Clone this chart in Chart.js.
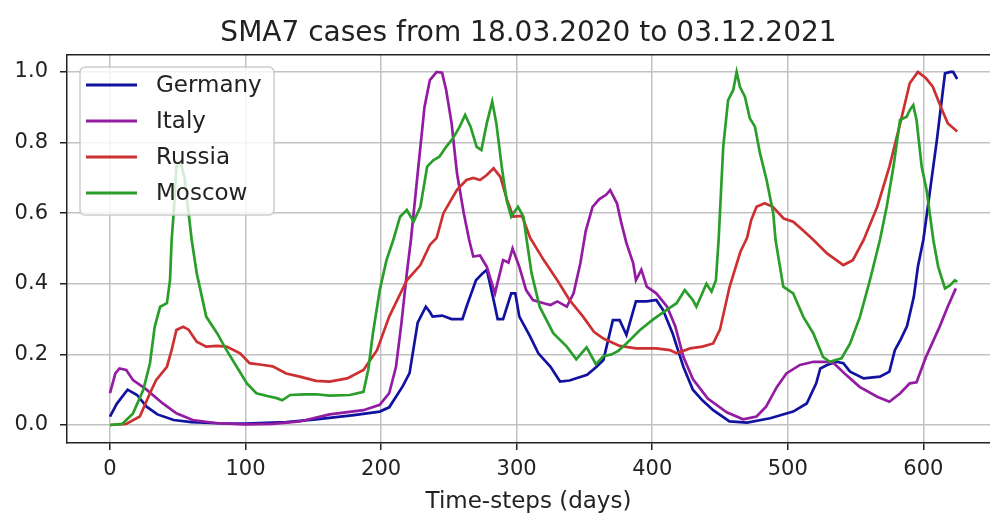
<!DOCTYPE html>
<html><head><meta charset="utf-8">
<script src="https://cdn.jsdelivr.net/npm/chart.js@4"></script>
<style>html,body{margin:0;padding:0;background:#fff;overflow:hidden}#wrap{width:990px;height:516px}</style>
</head><body><div id="wrap"><canvas id="c" width="990" height="516"></canvas></div>
<script>
const titleText = 'SMA7 cases from 18.03.2020 to 03.12.2021';
const xAxisLabel = 'Time-steps (days)';
const seriesNames = ['Germany', 'Italy', 'Russia', 'Moscow'];
const xTicks = [0, 100, 200, 300, 400, 500, 600];
const yTicks = [0, 0.2, 0.4, 0.6, 0.8, 1.0];

// [day, value] pairs
const germany = [[0,0.024],[5,0.06],[13,0.10],[20,0.085],[27,0.052],[35,0.03],[47,0.014],[60,0.008],[80,0.005],[100,0.004],[130,0.008],[150,0.015],[162,0.02],[180,0.028],[199,0.038],[206,0.05],[211,0.08],[216,0.11],[221,0.147],[227,0.29],[233,0.335],[236,0.32],[238,0.307],[245,0.31],[252,0.30],[260,0.30],[263,0.335],[270,0.41],[275,0.43],[278,0.44],[283,0.354],[286,0.30],[290,0.30],[296,0.373],[299,0.373],[302,0.307],[310,0.25],[316,0.203],[325,0.165],[332,0.123],[339,0.126],[352,0.142],[359,0.165],[364,0.184],[371,0.297],[376,0.297],[381,0.255],[388,0.35],[396,0.35],[403,0.354],[408,0.326],[415,0.26],[423,0.165],[430,0.10],[437,0.07],[445,0.042],[457,0.01],[470,0.007],[487,0.019],[504,0.038],[514,0.061],[521,0.118],[524,0.16],[529,0.17],[536,0.179],[541,0.175],[546,0.151],[556,0.132],[568,0.137],[575,0.151],[579,0.212],[583,0.24],[588,0.28],[593,0.363],[596,0.448],[600,0.524],[610,0.807],[616,0.996],[620,1.0],[622,1.0],[625,0.98]];
const italy = [[0,0.09],[4,0.146],[7,0.16],[12,0.156],[17,0.127],[27,0.10],[39,0.061],[49,0.033],[61,0.014],[79,0.005],[100,0.002],[120,0.003],[140,0.01],[162,0.03],[187,0.042],[199,0.057],[206,0.09],[211,0.165],[215,0.288],[219,0.43],[222,0.524],[227,0.713],[232,0.90],[236,0.977],[241,1.0],[245,0.998],[248,0.949],[252,0.855],[256,0.713],[261,0.60],[265,0.524],[268,0.477],[273,0.48],[278,0.448],[284,0.373],[290,0.467],[294,0.46],[297,0.50],[302,0.448],[307,0.382],[312,0.354],[320,0.345],[325,0.34],[330,0.35],[337,0.335],[342,0.373],[347,0.458],[351,0.55],[356,0.618],[361,0.64],[366,0.652],[369,0.665],[374,0.628],[377,0.576],[381,0.515],[386,0.458],[388,0.41],[392,0.44],[396,0.392],[403,0.373],[411,0.335],[417,0.28],[423,0.193],[430,0.13],[441,0.075],[455,0.036],[467,0.016],[477,0.024],[484,0.052],[492,0.108],[499,0.146],[509,0.17],[519,0.179],[529,0.179],[534,0.175],[543,0.142],[553,0.108],[566,0.08],[575,0.066],[583,0.09],[590,0.118],[595,0.121],[602,0.193],[612,0.278],[618,0.335],[624,0.387]];
const russia = [[0,0],[12,0.003],[22,0.024],[29.5,0.09],[34,0.127],[42,0.165],[45.5,0.212],[49,0.269],[54,0.278],[58,0.27],[64,0.236],[71,0.222],[79,0.224],[86,0.222],[96,0.203],[103,0.175],[113,0.17],[120,0.166],[130,0.146],[140,0.137],[152,0.125],[162,0.123],[175,0.132],[187,0.156],[197,0.212],[206,0.307],[219,0.41],[229,0.453],[236,0.51],[241,0.53],[246,0.60],[256,0.666],[263,0.694],[268,0.70],[273,0.694],[278,0.708],[283,0.727],[288,0.703],[293,0.637],[297.5,0.59],[304,0.592],[310,0.53],[320,0.467],[330,0.41],[339,0.354],[349,0.307],[357,0.264],[364,0.245],[376,0.224],[388,0.217],[403,0.217],[413,0.212],[418,0.203],[428,0.217],[437,0.222],[445,0.231],[450,0.27],[457,0.39],[465,0.49],[470,0.53],[473,0.58],[477,0.618],[483,0.628],[489,0.618],[497,0.585],[504,0.576],[511,0.552],[519,0.524],[529,0.486],[541,0.453],[548,0.467],[556,0.524],[566,0.618],[575,0.732],[583,0.855],[590,0.968],[596,1.0],[602,0.982],[607,0.958],[613,0.90],[618,0.855],[625,0.831]];
const moscow = [[0,0],[9,0.003],[17,0.033],[24.6,0.10],[29.5,0.175],[33,0.278],[37,0.335],[42,0.345],[44.3,0.41],[45.5,0.524],[47,0.6],[49,0.732],[52,0.745],[55,0.7],[58,0.6],[60.3,0.524],[64,0.43],[71,0.307],[79,0.26],[86,0.212],[93.5,0.165],[101,0.118],[108,0.09],[116,0.082],[123,0.076],[127,0.07],[133,0.085],[143,0.087],[152,0.087],[162,0.083],[177,0.085],[187,0.094],[190.5,0.156],[194,0.26],[199,0.382],[204,0.467],[209,0.524],[214,0.59],[219,0.609],[224,0.576],[229,0.618],[234,0.732],[238.5,0.75],[243,0.76],[248,0.788],[253,0.812],[258,0.845],[262,0.878],[266,0.845],[270.5,0.788],[274,0.779],[278,0.855],[282,0.916],[285,0.855],[289,0.732],[292.6,0.637],[296,0.59],[301,0.618],[305,0.59],[307.4,0.524],[311,0.43],[317,0.335],[327,0.26],[337,0.222],[344,0.186],[351.6,0.22],[358.5,0.172],[364,0.195],[370,0.2],[375,0.21],[381,0.231],[391,0.269],[401,0.3],[410.7,0.326],[418,0.345],[424,0.382],[430,0.354],[432.6,0.335],[440,0.40],[443.8,0.378],[447,0.41],[449,0.524],[452.4,0.788],[456,0.92],[459.8,0.949],[462.3,1.0],[464.7,0.958],[468.4,0.93],[472,0.869],[475.8,0.845],[479.5,0.77],[484.4,0.694],[489.3,0.60],[491,0.524],[496.7,0.392],[504,0.373],[511.4,0.307],[518.8,0.26],[526,0.193],[531,0.179],[539.7,0.189],[546,0.231],[553.3,0.307],[560.6,0.41],[568,0.524],[573,0.618],[578,0.732],[582.8,0.864],[587.7,0.873],[590,0.892],[592.6,0.906],[595,0.864],[598.8,0.732],[602.4,0.666],[607.4,0.524],[611,0.448],[616,0.387],[619.6,0.395],[623.3,0.41],[625,0.405]];

const seriesData = [germany, italy, russia, moscow];
const seriesColors = ['#1212a0', '#931ca3', '#cd3030', '#2a9e2a'];

const FONT = '"DejaVu Sans", "Liberation Sans", sans-serif';
const INK = '#222222';

const legendPlugin = {
  id: 'boxLegend',
  afterDatasetsDraw(chart) {
    const {ctx, chartArea} = chart;
    const x0 = chartArea.left + 13, y0 = chartArea.top + 12, w = 194, h = 148;
    ctx.save();
    ctx.beginPath();
    ctx.roundRect(x0, y0, w, h, 5);
    ctx.fillStyle = 'rgba(255,255,255,0.8)';
    ctx.fill();
    ctx.strokeStyle = 'rgba(200,200,200,0.9)';
    ctx.lineWidth = 1.5;
    ctx.stroke();
    ctx.font = '23px ' + FONT;
    ctx.textBaseline = 'middle';
    ctx.textAlign = 'left';
    chart.data.datasets.forEach((ds, i) => {
      const yy = y0 + 18 + i * 36;
      ctx.strokeStyle = ds.borderColor;
      ctx.lineWidth = 3;
      ctx.beginPath();
      ctx.moveTo(x0 + 6, yy);
      ctx.lineTo(x0 + 57, yy);
      ctx.stroke();
      ctx.fillStyle = INK;
      ctx.fillText(ds.label, x0 + 76, yy + 1);
    });
    ctx.restore();
  }
};

const datasets = seriesNames.map((name, i) => ({
  label: name,
  data: seriesData[i].map(p => ({x: p[0], y: p[1]})),
  borderColor: seriesColors[i],
  backgroundColor: seriesColors[i],
  borderWidth: 2.7,
  pointRadius: 0,
  tension: 0,
  fill: false,
  order: seriesNames.length - i
}));

new Chart(document.getElementById('c'), {
  type: 'line',
  data: {datasets},
  plugins: [legendPlugin],
  options: {
    responsive: false,
    animation: false,
    devicePixelRatio: 1,
    layout: {padding: 0},
    plugins: {legend: {display: false}, title: {display: false}, tooltip: {enabled: false}},
    scales: {
      x: {
        type: 'linear', position: 'bottom', min: -31.7, max: 649.2,
        afterBuildTicks: s => { s.ticks = xTicks.map(v => ({value: v})); },
        afterFit: s => { s.height = 73; },
        grid: {color: '#c2c2c2', lineWidth: 1.5, tickLength: 7, tickColor: INK, tickWidth: 1.5},
        border: {color: INK, width: 1.5},
        ticks: {font: {family: FONT, size: 21}, color: INK, padding: 7, maxRotation: 0, autoSkip: false, callback: v => String(v)},
        title: {display: true, text: xAxisLabel, font: {family: FONT, size: 23}, color: INK, padding: {top: 0, bottom: 0}}
      },
      x2: {
        type: 'linear', position: 'top', min: -31.7, max: 649.2,
        afterFit: s => { s.height = 55; },
        grid: {display: false, drawTicks: false},
        border: {display: true, color: INK, width: 1.5},
        ticks: {display: false},
        title: {display: true, text: titleText, font: {family: FONT, size: 28}, color: INK, padding: {top: 17, bottom: 0}}
      },
      y: {
        type: 'linear', position: 'left', min: -0.051, max: 1.048,
        afterBuildTicks: s => { s.ticks = yTicks.map(v => ({value: v})); },
        afterFit: s => { s.width = 67; },
        grid: {color: '#c2c2c2', lineWidth: 1.5, tickLength: 7, tickColor: INK, tickWidth: 1.5},
        border: {color: INK, width: 1.5},
        ticks: {font: {family: FONT, size: 21}, color: INK, padding: 12, callback: v => v.toFixed(1)}
      }
    }
  }
});
</script></body></html>
